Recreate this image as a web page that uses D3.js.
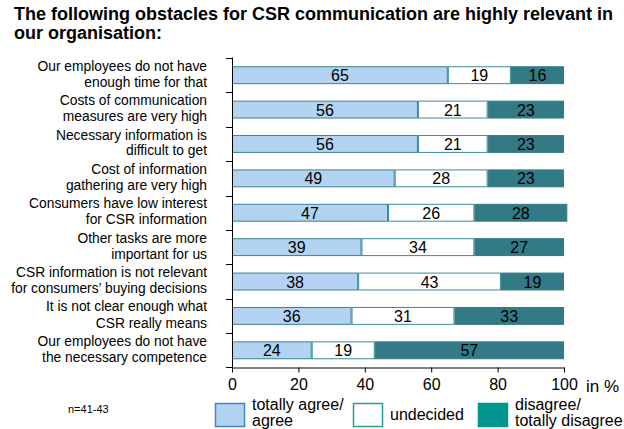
<!DOCTYPE html>
<html>
<head>
<meta charset="utf-8">
<script src="https://cdn.jsdelivr.net/npm/d3@7"></script>
<style>
  html, body { margin: 0; padding: 0; background: #fff; }
  svg { display: block; font-family: "Liberation Sans", Arial, sans-serif; }
</style>
</head>
<body>
<svg id="chart" width="624" height="429"></svg>
<script>
// ---- data ----
const categories = [
  "Our employees do not have|enough time for that",
  "Costs of communication|measures are very high",
  "Necessary information is|difficult to get",
  "Cost of information|gathering are very high",
  "Consumers have low interest|for CSR information",
  "Other tasks are more|important for us",
  "CSR information is not relevant|for consumers’ buying decisions",
  "It is not clear enough what|CSR really means",
  "Our employees do not have|the necessary competence"
];
const agree     = [65, 56, 56, 49, 47, 39, 38, 36, 24];
const undecided = [19, 21, 21, 28, 26, 34, 43, 31, 19];
const disagree  = [16, 23, 23, 23, 28, 27, 19, 33, 57];
const seriesKeys = ["agree", "undecided", "disagree"];
const seriesNames = ["totally agree/|agree", "undecided", "disagree/|totally disagree"];
const xTicks = [0, 20, 40, 60, 80, 100];
const titleLines = ["The following obstacles for CSR communication are highly relevant in", "our organisation:"];
const sampleNote = "n=41-43";
const unitLabel = "in %";

// ---- layout / styles ----
const labelGap = [15.8, 15.8, 15.8, 16.5, 15.8, 15.8, 15.8, 17, 15.8];
const barFill   = { agree: "#b3d3f3", undecided: "#ffffff", disagree: "#327a86" };
const barStroke = { agree: "#3d8093", undecided: "#3d8c98", disagree: "#327a86" };
const legFill   = { agree: "#b3d3f3", undecided: "#ffffff", disagree: "#00968f" };
const legStroke = { agree: "#4a84c2", undecided: "#2a9c9c", disagree: "#00968f" };

const rows = categories.map((c, i) => ({ cat: c, agree: agree[i], undecided: undecided[i], disagree: disagree[i] }));

const svg = d3.select("#chart");

const x = d3.scaleLinear().domain([0, 100]).range([232, 564]);
const y = d3.scaleBand().domain(categories).range([58, 367.5]).paddingInner(0.48).paddingOuter(0.24);

// title
svg.append("g").selectAll("text").data(titleLines).join("text")
  .attr("x", 14).attr("y", (d, i) => 20 + i * 19)
  .attr("font-size", 18).attr("font-weight", "bold").attr("fill", "#000")
  .text(d => d);

// bars
const stacked = d3.stack().keys(seriesKeys)(rows);
const gBars = svg.append("g");
stacked.forEach(layer => {
  const key = layer.key;
  gBars.append("g").selectAll("rect").data(layer).join("rect")
    .attr("x", d => x(d[0]) + 0.5)
    .attr("y", d => y(d.data.cat) + 0.5)
    .attr("width", d => x(d[1]) - x(d[0]) - 1)
    .attr("height", y.bandwidth() - 1)
    .attr("fill", barFill[key])
    .attr("stroke", barStroke[key])
    .attr("stroke-width", 1);
  gBars.append("g").selectAll("text").data(layer).join("text")
    .attr("x", d => (x(d[0]) + x(d[1])) / 2)
    .attr("y", d => y(d.data.cat) + y.bandwidth() / 2 + 6)
    .attr("text-anchor", "middle")
    .attr("font-size", 16).attr("fill", "#000")
    .text(d => d.data[key]);
});

// y axis line + boundary ticks
const gAxis = svg.append("g").attr("stroke", "#000").attr("stroke-width", 1).attr("fill", "none");
gAxis.append("line").attr("x1", 232.5).attr("x2", 232.5).attr("y1", 57.5).attr("y2", 368);
const half = (y.step() - y.bandwidth()) / 2;
const bounds = categories.map(c => y(c) - half).concat([y(categories[categories.length - 1]) + y.bandwidth() + half]);
gAxis.selectAll("line.yt").data(bounds).join("line").attr("class", "yt")
  .attr("x1", 226).attr("x2", 232.5)
  .attr("y1", d => Math.round(d) + 0.5).attr("y2", d => Math.round(d) + 0.5);

// x axis
const xAxis = svg.append("g").attr("transform", "translate(0,367.5)")
  .call(d3.axisBottom(x).tickValues(xTicks).tickSize(5).tickPadding(6).tickSizeOuter(0));
xAxis.select(".domain").attr("stroke", "#000");
xAxis.selectAll(".tick line").attr("stroke", "#000");
xAxis.selectAll(".tick text").attr("font-size", 16).attr("fill", "#000")
  .attr("font-family", "Liberation Sans, Arial, sans-serif");
svg.append("text").attr("x", 586).attr("y", 392).attr("font-size", 17).attr("fill", "#000").text(unitLabel);

// category labels
const gLab = svg.append("g");
categories.forEach((c, k) => {
  const cy = y(c) + y.bandwidth() / 2;
  const parts = c.split("|");
  const t = gLab.append("text").attr("text-anchor", "end").attr("font-size", 13.8).attr("fill", "#000");
  const top = cy + 5 - labelGap[k] / 2 - 1.5;
  parts.forEach((p, i) => {
    t.append("tspan").attr("x", 207).attr("y", top + i * labelGap[k]).text(p);
  });
});

// note
svg.append("text").attr("x", 68).attr("y", 413).attr("font-size", 11).attr("fill", "#000").text(sampleNote);

// legend
const legX = [215, 353, 478];
const gLeg = svg.append("g");
seriesKeys.forEach((k, i) => {
  gLeg.append("rect").attr("x", legX[i] + 0.5).attr("y", 403.5).attr("width", 29).attr("height", 23)
    .attr("fill", legFill[k]).attr("stroke", legStroke[k]).attr("stroke-width", 1.5);
  const parts = seriesNames[i].split("|");
  const t = gLeg.append("text").attr("font-size", 16).attr("fill", "#000");
  parts.forEach((p, j) => {
    t.append("tspan").attr("x", legX[i] + 37)
      .attr("y", parts.length === 1 ? 420 : 410 + j * 16).text(p);
  });
});
</script>
</body>
</html>
